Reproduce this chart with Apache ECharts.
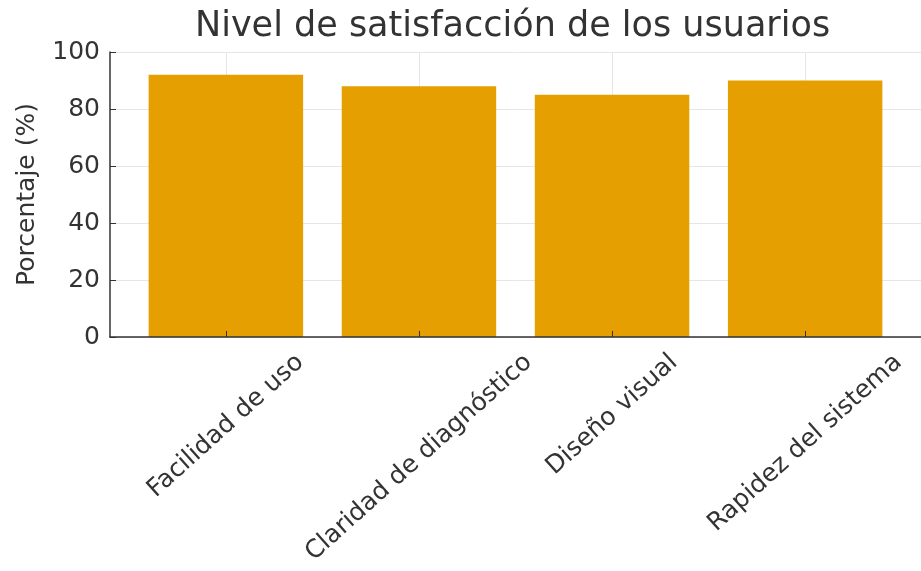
<!DOCTYPE html>
<html>
<head>
<meta charset="utf-8">
<script src="https://cdn.jsdelivr.net/npm/echarts@6/dist/echarts.min.js"></script>
<style>
  html, body { margin: 0; padding: 0; background: #ffffff; }
  #chart { width: 921px; height: 571px; }
</style>
</head>
<body>
<div id="chart"></div>
<script>
// Satisfaction survey results
const categories = ['Facilidad de uso', 'Claridad de diagnóstico', 'Diseño visual', 'Rapidez del sistema'];
const satisfaction = [92, 88, 85, 90];
const yTicks = [0, 20, 40, 60, 80, 100];

const FONT = '"DejaVu Sans", Verdana, sans-serif';
const TEXT = '#333333';
const AXIS = '#333333';
const GRID = '#e6e6e6';
const X_LABEL_SIZE = 25;
const Y_LABEL_SIZE = 25;
const X_LABEL_ROTATE = 42;

// Measure each category label so the rotated labels sit centred under their tick:
// extra padding pushes each label down by half of its rotated height.
const ctx = document.createElement('canvas').getContext('2d');
ctx.font = X_LABEL_SIZE + 'px ' + FONT;
const theta = X_LABEL_ROTATE * Math.PI / 180;
const rich = {};
categories.forEach((c, i) => {
  const w = ctx.measureText(c).width;
  rich['c' + i] = {
    fontFamily: FONT,
    fontSize: X_LABEL_SIZE,
    color: TEXT,
    padding: [w * Math.sin(theta) * Math.cos(theta), w * Math.sin(theta) * Math.sin(theta), 0, 0]
  };
});

const positions = categories.map((_, i) => i);
const X_MIN = -0.6;
const X_MAX = 3.6;

const chart = echarts.init(document.getElementById('chart'), null, { renderer: 'canvas' });
chart.setOption({
  animation: false,
  backgroundColor: '#ffffff',
  title: {
    text: 'Nivel de satisfacción de los usuarios',
    left: 195,
    top: 9,
    padding: 0,
    textStyle: { fontFamily: FONT, fontSize: 35, fontWeight: 'normal', color: TEXT }
  },
  grid: { left: 110, right: 0, top: 52, bottom: 234, containLabel: false, outerBoundsMode: 'none' },
  xAxis: [
    {
      // category grid lines, drawn beneath the bars
      type: 'value',
      min: X_MIN,
      max: X_MAX,
      axisLine: { show: false },
      axisTick: { show: false, customValues: positions },
      splitLine: { show: true, lineStyle: { color: GRID, width: 1 } },
      axisLabel: {
        customValues: positions,
        rotate: X_LABEL_ROTATE,
        align: 'center',
        verticalAlign: 'middle',
        margin: 22,
        hideOverlap: false,
        rich: rich,
        formatter: v => {
          const i = Math.round(v);
          return '{c' + i + '|' + categories[i] + '}';
        }
      }
    },
    {
      // axis line and ticks, drawn above the bars
      type: 'value',
      position: 'bottom',
      min: X_MIN,
      max: X_MAX,
      z: 5,
      axisLine: { show: true, onZero: false, lineStyle: { color: AXIS, width: 1.5 } },
      axisTick: { show: true, inside: true, length: 6, customValues: positions, lineStyle: { color: AXIS } },
      splitLine: { show: false },
      axisLabel: { show: false }
    }
  ],
  yAxis: {
    type: 'value',
    min: 0,
    max: 100,
    interval: 20,
    name: 'Porcentaje (%)',
    nameLocation: 'middle',
    nameGap: 70,
    nameTextStyle: { fontFamily: FONT, fontSize: 25, color: TEXT },
    axisLine: { show: true, onZero: false, lineStyle: { color: AXIS, width: 1.5 } },
    axisTick: { show: true, inside: true, length: 6, lineStyle: { color: AXIS } },
    splitLine: { show: true, lineStyle: { color: GRID, width: 1 } },
    axisLabel: {
      fontFamily: FONT,
      fontSize: Y_LABEL_SIZE,
      color: TEXT,
      margin: 10,
      formatter: v => (yTicks.includes(v) ? String(v) : '')
    }
  },
  series: [{
    type: 'bar',
    xAxisIndex: 0,
    data: satisfaction.map((v, i) => [positions[i], v]),
    barWidth: '80%',
    itemStyle: { color: '#E69F00' },
    emphasis: { disabled: true }
  }]
});
</script>
</body>
</html>
